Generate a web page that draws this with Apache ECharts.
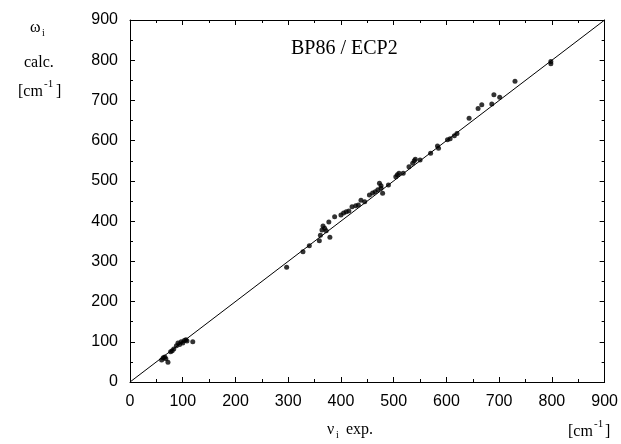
<!DOCTYPE html>
<html>
<head>
<meta charset="utf-8">
<script src="https://cdn.jsdelivr.net/npm/echarts@6/dist/echarts.min.js"></script>
<style>html,body{margin:0;padding:0;background:#fff}#c{width:621px;height:444px}</style>
</head>
<body>
<div id="c"></div>
<script>
// experimental wavenumbers (cm^-1)
var expVals = [60,63,66,68,72,77,80,83,88,91,94,97,100,103,106,108,119,
  297,328,340,359,361,364,366,369,372,379,377,388,400,405,410,415,421,428,433,438,445,454,460,465,470,473,476,479,476,490,
  504,507,510,518,529,536,539,541,550,570,583,585,602,607,615,620,643,660,667,686,690,701,730,798,798];
// calculated wavenumbers (cm^-1)
var calcVals = [55,60,62,58,49,75,78,82,90,97,93,100,97,103,105,102,100,
  285,324,339,351,365,378,388,382,376,360,398,411,415,420,423,425,436,438,440,452,448,465,470,473,478,494,482,469,488,490,
  510,515,519,519,535,544,550,554,552,569,587,581,602,605,612,618,656,680,689,691,714,708,748,791,797];
var diagonal = [0, 900];
var tickMin = 0, tickMax = 900, tickStep = 100;
var titleText = 'BP86 / ECP2';

var pts = expVals.map(function(v, i){ return [v, calcVals[i]]; });
var serif = '"Liberation Serif","DejaVu Serif",serif';
var sans = '"Liberation Sans",Arial,sans-serif';

function axisBase(pos, showLabel){
  return {
    type: 'value', min: tickMin, max: tickMax, interval: tickStep, position: pos,
    axisLine: {show: true, onZero: false, lineStyle: {color: '#000', width: 1}},
    axisTick: {show: true, inside: true, length: 5, lineStyle: {color: '#000'}},
    minorTick: {show: true, splitNumber: 2, length: 3, lineStyle: {color: '#000'}},
    splitLine: {show: false},
    axisLabel: {show: showLabel, color: '#000', fontFamily: sans, fontSize: 16, margin: 12}
  };
}

var chart = echarts.init(document.getElementById('c'), null, {renderer: 'canvas'});
chart.setOption({
  animation: false,
  backgroundColor: '#fff',
  grid: {left: 130, right: 15, top: 20, bottom: 62},
  title: {text: titleText, left: 286, top: 34,
    textStyle: {fontFamily: serif, fontSize: 20, fontWeight: 'normal', color: '#000'}},
  xAxis: [axisBase('bottom', true), axisBase('top', false)],
  yAxis: [axisBase('left', true), axisBase('right', false)],
  graphic: [
    {type: 'text', left: 30, top: 20, style: {text: 'ω', font: '16px ' + serif, fill: '#000'}},
    {type: 'text', left: 42, top: 28, style: {text: 'i', font: '10px ' + serif, fill: '#000'}},
    {type: 'text', left: 24, top: 55, style: {text: 'calc.', font: '16px ' + serif, fill: '#000'}},
    {type: 'text', left: 18, top: 84, style: {text: '[cm', font: '16px ' + serif, fill: '#000'}},
    {type: 'text', left: 44, top: 79, style: {text: '-1', font: '11px ' + serif, fill: '#000'}},
    {type: 'text', left: 56, top: 84, style: {text: ']', font: '16px ' + serif, fill: '#000'}},
    {type: 'text', left: 327, top: 422, style: {text: 'ν', font: '16px ' + serif, fill: '#000'}},
    {type: 'text', left: 336, top: 430, style: {text: 'i', font: '10px ' + serif, fill: '#000'}},
    {type: 'text', left: 346, top: 422, style: {text: 'exp.', font: '16px ' + serif, fill: '#000'}},
    {type: 'text', left: 568, top: 424, style: {text: '[cm', font: '16px ' + serif, fill: '#000'}},
    {type: 'text', left: 594, top: 419, style: {text: '-1', font: '11px ' + serif, fill: '#000'}},
    {type: 'text', left: 605, top: 424, style: {text: ']', font: '16px ' + serif, fill: '#000'}}
  ],
  series: [
    {type: 'line', xAxisIndex: 0, yAxisIndex: 0, data: [[diagonal[0], diagonal[0]], [diagonal[1], diagonal[1]]],
      symbol: 'none', lineStyle: {color: '#000', width: 1}, silent: true},
    {type: 'scatter', xAxisIndex: 0, yAxisIndex: 0, data: pts, symbol: 'circle', symbolSize: 5,
      itemStyle: {color: '#000'}}
  ]
});
</script>
</body>
</html>
